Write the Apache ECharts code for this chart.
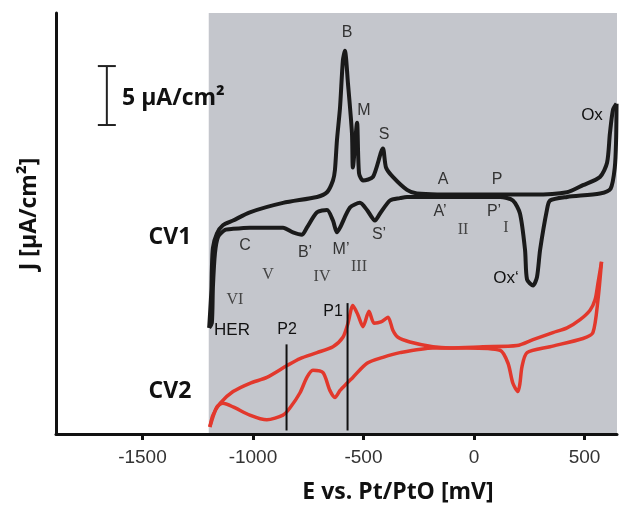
<!DOCTYPE html>
<html>
<head>
<meta charset="utf-8">
<script src="https://cdn.jsdelivr.net/npm/echarts@6/dist/echarts.min.js"></script>
<style>
  html, body { margin: 0; padding: 0; background: #fff; }
  #chart { width: 619px; height: 505px; }
</style>
</head>
<body>
<div id="chart"></div>
<script>
// Potential tick labels (mV)
const tickValues = [-1500, -1000, -500, 0, 500];

// CV1 – anodic (forward) sweep: potential (mV) and current density (µA/cm², offset trace)
const cv1FwdE = [-1198, -1188, -1186, -1181, -1163, -1136, -1090, -1014, -864, -710, -665, -638, -629, -620, -606, -593, -584, -570, -552, -548, -529, -520, -502, -457, -412, -398, -367, -303, -258, -32, 118, 267, 421, 493, 570, 602, 615, 629, 645];
const cv1FwdJ = [9.0, 12.2, 13.9, 15.8, 17.0, 17.7, 18.1, 18.8, 19.6, 20.1, 20.5, 21.5, 22.4, 24.9, 27.7, 31.7, 32.5, 29.7, 25.5, 22.6, 26.4, 22.1, 21.5, 21.8, 24.2, 22.6, 21.8, 20.7, 20.4, 20.3, 20.3, 20.3, 20.5, 21.1, 21.8, 23.0, 25.5, 27.5, 28.0];

// CV1 – cathodic (reverse) sweep
const cv1RevE = [645, 643, 637, 618, 570, 421, 344, 330, 299, 285, 267, 240, 231, 208, 176, 118, -32, -303, -335, -380, -425, -448, -484, -516, -561, -606, -620, -638, -665, -710, -756, -778, -819, -864, -1014, -1090, -1127, -1158, -1172, -1181, -1186, -1198];
const cv1RevJ = [28.0, 25.0, 22.6, 20.8, 20.4, 20.1, 19.8, 19.0, 15.6, 13.3, 12.6, 13.1, 15.6, 18.7, 19.8, 20.1, 20.1, 20.1, 20.0, 19.8, 18.7, 18.1, 19.0, 19.6, 19.2, 17.5, 17.1, 18.1, 19.0, 18.8, 17.5, 16.9, 17.1, 17.5, 17.5, 17.4, 17.3, 16.7, 15.3, 12.5, 9.4, 9.0];

// CV2 – anodic (forward) sweep
const cv2FwdE = [-1195, -1181, -1149, -1090, -1014, -937, -846, -787, -710, -638, -593, -570, -548, -525, -502, -475, -452, -421, -389, -367, -344, -290, -186, -109, 41, 195, 267, 357, 421, 480, 525, 548, 561, 577];
const cv2FwdJ = [0.6, 1.6, 2.6, 3.6, 4.3, 4.8, 5.8, 6.4, 6.9, 7.4, 8.2, 9.4, 10.9, 10.1, 9.1, 10.4, 9.4, 9.5, 9.9, 8.8, 8.2, 7.8, 7.4, 7.3, 7.4, 7.5, 8.0, 8.6, 9.0, 9.7, 10.5, 11.4, 12.8, 14.6];

// CV2 – cathodic (reverse) sweep
const cv2RevE = [577, 561, 538, 493, 344, 240, 217, 208, 199, 176, 154, 118, -32, -186, -335, -412, -484, -548, -575, -606, -629, -652, -683, -729, -756, -787, -833, -864, -937, -1014, -1090, -1136, -1163, -1195];
const cv2RevJ = [14.6, 11.4, 8.6, 8.1, 7.4, 6.9, 5.7, 4.3, 3.6, 4.3, 6.0, 7.1, 7.3, 7.3, 6.9, 6.5, 6.0, 4.8, 4.3, 3.7, 3.1, 3.7, 5.2, 5.4, 4.8, 3.5, 2.2, 1.6, 1.2, 1.6, 2.3, 2.6, 2.3, 0.6];

// Marker lines P1 / P2 (potential, current extent)
const p1E = -572, p1J = [0.3, 11.1];
const p2E = -848, p2J = [0.3, 7.6];

// Scale bar: 5 µA/cm²
const scaleBarE = -1661, scaleBarJ = [26.2, 31.2];

// Shaded potential window (mV)
const windowStart = -1200;

const plotMin = -1891, plotMax = 647, jMax = 35.7;

const pairs = (e, j) => e.map((v, i) => [v, j[i]]);

const sans = '"Liberation Sans", Arial, sans-serif';
const serif = '"Liberation Serif", "Times New Roman", serif';
const boldFont = 'bold 23px "Open Sans", sans-serif';

function txt(text, x, y, font, fill, extra) {
  return Object.assign({
    type: 'text', x: x, y: y, z: 100, silent: true,
    style: { text: text, font: font, fill: fill, align: 'center', verticalAlign: 'middle' }
  }, extra || {});
}

const small = '16px ' + sans;
const roman = '16px ' + serif;

const chart = echarts.init(document.getElementById('chart'), null, { renderer: 'canvas' });

chart.setOption({
  animation: false,
  grid: { left: 56, right: 2, top: 13, bottom: 71 },
  xAxis: {
    type: 'value', min: plotMin, max: plotMax,
    axisLine: { onZero: false, lineStyle: { color: '#111', width: 3 } },
    axisTick: { customValues: tickValues, length: 6, lineStyle: { color: '#111', width: 3 } },
    axisLabel: {
      customValues: tickValues, fontSize: 19, color: '#333', margin: 14, fontFamily: sans,
      formatter: function (v) { return String(v); }
    },
    splitLine: { show: false }
  },
  yAxis: {
    type: 'value', min: 0, max: jMax,
    axisLine: { show: true, onZero: false, lineStyle: { color: '#111', width: 3 } },
    axisTick: { show: false }, axisLabel: { show: false }, splitLine: { show: false }
  },
  series: [
    {
      // grey potential window
      type: 'custom', z: 0, silent: true,
      data: [[windowStart, plotMax]],
      renderItem: function (params, api) {
        const a = api.coord([api.value(0), jMax]);
        const b = api.coord([api.value(1), 0]);
        return { type: 'rect', shape: { x: a[0], y: a[1], width: b[0] - a[0], height: b[1] - a[1] }, style: { fill: '#c4c6cc' } };
      }
    },
    {
      // scale bar
      type: 'custom', z: 5, silent: true,
      data: [[scaleBarE, scaleBarJ[0], scaleBarJ[1]]],
      renderItem: function (params, api) {
        const lo = api.coord([api.value(0), api.value(1)]);
        const hi = api.coord([api.value(0), api.value(2)]);
        const st = { stroke: '#222', lineWidth: 2 };
        return {
          type: 'group', children: [
            { type: 'line', shape: { x1: lo[0], y1: lo[1], x2: hi[0], y2: hi[1] }, style: st },
            { type: 'line', shape: { x1: lo[0] - 9, y1: lo[1], x2: lo[0] + 9, y2: lo[1] }, style: st },
            { type: 'line', shape: { x1: hi[0] - 9, y1: hi[1], x2: hi[0] + 9, y2: hi[1] }, style: st }
          ]
        };
      }
    },
    { type: 'line', z: 4, data: [[p2E, p2J[0]], [p2E, p2J[1]]], showSymbol: false, lineStyle: { color: '#111', width: 2 } },
    { type: 'line', z: 4, data: [[p1E, p1J[0]], [p1E, p1J[1]]], showSymbol: false, lineStyle: { color: '#111', width: 2 } },
    { type: 'line', z: 3, data: pairs(cv2FwdE, cv2FwdJ), showSymbol: false, smooth: 0.25, lineStyle: { color: '#e2382c', width: 3.5 } },
    { type: 'line', z: 3, data: pairs(cv2RevE, cv2RevJ), showSymbol: false, smooth: 0.25, lineStyle: { color: '#e2382c', width: 3.5 } },
    { type: 'line', z: 3, data: pairs(cv1FwdE, cv1FwdJ), showSymbol: false, smooth: 0.25, lineStyle: { color: '#1a1a1a', width: 4 } },
    { type: 'line', z: 3, data: pairs(cv1RevE, cv1RevJ), showSymbol: false, smooth: 0.25, lineStyle: { color: '#1a1a1a', width: 4 } }
  ],
  graphic: [
    txt('J [µA/cm²]', 29, 214, boldFont, '#111', { rotation: Math.PI / 2 }),
    txt('E vs. Pt/PtO [mV]', 398, 492, boldFont, '#111'),
    txt('5 µA/cm²', 122, 98, boldFont, '#111', { style: { text: '5 µA/cm²', font: boldFont, fill: '#111', align: 'left', verticalAlign: 'middle' } }),
    txt('CV1', 170, 237, boldFont, '#111'),
    txt('CV2', 170, 391, boldFont, '#111'),
    txt('B', 347, 33, small, '#333'),
    txt('M', 364, 111, small, '#333'),
    txt('S', 384, 135, small, '#333'),
    txt('A', 443, 180, small, '#333'),
    txt('P', 497, 180, small, '#333'),
    txt('Ox', 592, 115, '17px ' + sans, '#111'),
    txt('A\u2019', 440, 212, small, '#333'),
    txt('P\u2019', 494, 212, small, '#333'),
    txt('II', 463, 230, roman, '#444'),
    txt('I', 506, 228, roman, '#444'),
    txt('Ox\u2018', 506, 278, '17px ' + sans, '#111'),
    txt('S\u2019', 379, 235, small, '#333'),
    txt('M\u2019', 341, 250, small, '#333'),
    txt('B\u2019', 305, 253, small, '#333'),
    txt('C', 245, 246, small, '#333'),
    txt('V', 268, 275, roman, '#444'),
    txt('IV', 322, 277, roman, '#444'),
    txt('III', 359, 267, roman, '#444'),
    txt('VI', 235, 300, roman, '#444'),
    txt('HER', 232, 330, '17px ' + sans, '#111'),
    txt('P2', 287, 330, '16px ' + sans, '#111'),
    txt('P1', 333, 312, '16px ' + sans, '#111')
  ]
});
</script>
</body>
</html>
